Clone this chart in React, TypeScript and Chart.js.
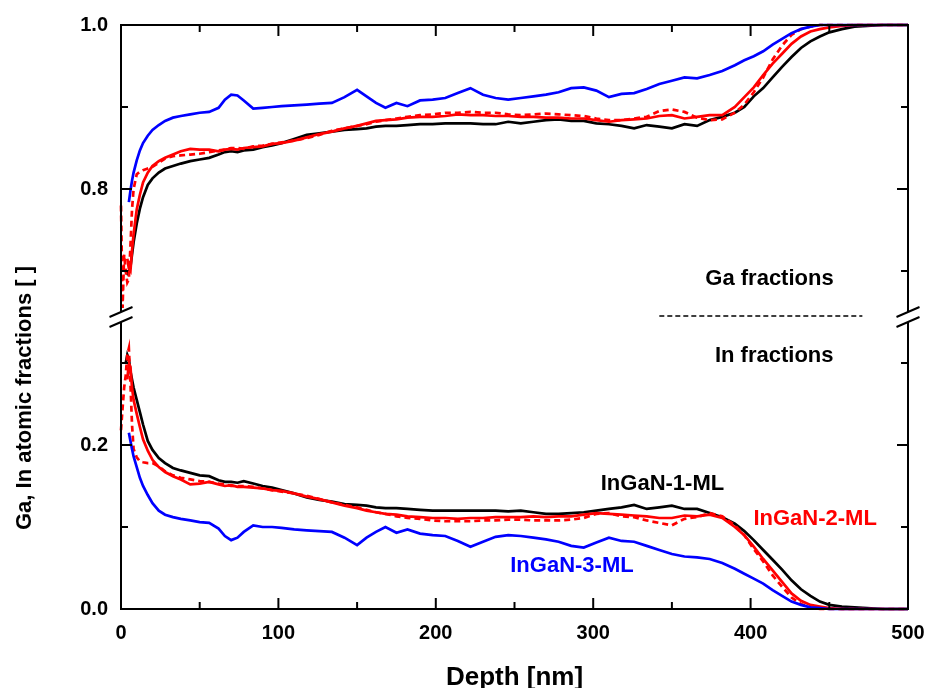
import React, { useEffect, useRef } from "react";
import { Chart, registerables } from "chart.js";

Chart.register(...registerables);

// ---------- data ----------
const depth = [0, 1, 2, 3, 4, 5, 6, 7, 8, 10, 12, 14, 17, 20, 24, 28, 33, 38, 44, 50, 56, 62, 66, 70, 74, 78, 84, 90, 96, 102, 110, 118, 126, 134, 142, 150, 156, 162, 168, 175, 182, 190, 198, 206, 214, 222, 230, 238, 246, 254, 262, 270, 278, 286, 294, 302, 310, 318, 326, 334, 342, 350, 358, 366, 374, 382, 390, 396, 402, 408, 414, 420, 426, 432, 438, 444, 450, 458, 466, 474, 484, 500];

// Ga fractions
const gaInGaN1 = [null, null, null, 0.700, 0.697, 0.700, 0.705, 0.720, 0.735, 0.758, 0.776, 0.790, 0.805, 0.813, 0.820, 0.825, 0.828, 0.831, 0.834, 0.836, 0.838, 0.842, 0.845, 0.846, 0.845, 0.847, 0.848, 0.851, 0.853, 0.856, 0.861, 0.866, 0.868, 0.870, 0.872, 0.873, 0.874, 0.876, 0.877, 0.877, 0.878, 0.879, 0.879, 0.880, 0.880, 0.880, 0.879, 0.879, 0.882, 0.880, 0.882, 0.884, 0.885, 0.883, 0.883, 0.880, 0.879, 0.877, 0.874, 0.878, 0.876, 0.874, 0.879, 0.877, 0.884, 0.888, 0.893, 0.900, 0.913, 0.923, 0.936, 0.949, 0.961, 0.972, 0.980, 0.986, 0.991, 0.995, 0.998, 0.999, 1.000, 1.000];
const gaInGaN2 = [null, null, null, null, 0.715, 0.703, 0.700, 0.725, 0.745, 0.775, 0.793, 0.808, 0.820, 0.828, 0.834, 0.838, 0.842, 0.846, 0.849, 0.848, 0.848, 0.846, 0.848, 0.849, 0.848, 0.850, 0.851, 0.852, 0.855, 0.856, 0.859, 0.863, 0.867, 0.870, 0.874, 0.877, 0.880, 0.883, 0.884, 0.885, 0.887, 0.888, 0.888, 0.889, 0.891, 0.890, 0.890, 0.889, 0.889, 0.888, 0.888, 0.887, 0.887, 0.886, 0.886, 0.884, 0.882, 0.884, 0.885, 0.886, 0.889, 0.890, 0.886, 0.888, 0.890, 0.890, 0.900, 0.912, 0.924, 0.939, 0.953, 0.965, 0.977, 0.986, 0.992, 0.995, 0.997, 0.999, 1.000, 1.000, 1.000, 1.000];
const gaInGaN2b = [0.780, 0.655, 0.720, 0.700, 0.686, 0.690, 0.730, 0.775, 0.800, 0.818, 0.821, 0.823, 0.825, 0.827, 0.832, 0.837, 0.840, 0.841, 0.842, 0.843, 0.845, 0.847, 0.848, 0.850, 0.850, 0.849, 0.852, 0.853, 0.855, 0.857, 0.859, 0.862, 0.866, 0.871, 0.874, 0.877, 0.879, 0.882, 0.884, 0.886, 0.888, 0.890, 0.891, 0.893, 0.893, 0.894, 0.893, 0.893, 0.891, 0.890, 0.891, 0.892, 0.891, 0.890, 0.889, 0.886, 0.884, 0.884, 0.886, 0.888, 0.895, 0.897, 0.894, 0.887, 0.884, 0.885, 0.893, 0.903, 0.918, 0.936, 0.958, 0.975, 0.988, 0.995, 0.998, 1.000, 1.000, 1.000, 1.000, 1.000, 1.000, 1.000];
const gaInGaN3 = [null, null, null, null, null, 0.784, 0.798, 0.810, 0.820, 0.835, 0.847, 0.856, 0.865, 0.872, 0.878, 0.883, 0.887, 0.889, 0.891, 0.893, 0.894, 0.899, 0.909, 0.915, 0.914, 0.908, 0.898, 0.899, 0.900, 0.901, 0.902, 0.903, 0.904, 0.905, 0.912, 0.921, 0.913, 0.905, 0.899, 0.905, 0.901, 0.908, 0.909, 0.911, 0.917, 0.923, 0.915, 0.911, 0.909, 0.911, 0.913, 0.915, 0.918, 0.923, 0.924, 0.920, 0.912, 0.916, 0.917, 0.922, 0.928, 0.932, 0.936, 0.935, 0.939, 0.944, 0.951, 0.957, 0.962, 0.968, 0.976, 0.983, 0.990, 0.995, 0.998, 1.000, 1.000, 1.000, 1.000, 1.000, 1.000, 1.000];

// In fractions
const inInGaN1 = [null, null, null, 0.300, 0.310, 0.305, 0.290, 0.280, 0.270, 0.255, 0.240, 0.225, 0.205, 0.194, 0.184, 0.178, 0.172, 0.169, 0.166, 0.163, 0.162, 0.157, 0.155, 0.155, 0.154, 0.156, 0.153, 0.150, 0.148, 0.145, 0.141, 0.136, 0.133, 0.131, 0.128, 0.127, 0.126, 0.124, 0.123, 0.123, 0.122, 0.121, 0.120, 0.120, 0.120, 0.120, 0.120, 0.120, 0.119, 0.120, 0.118, 0.116, 0.116, 0.117, 0.118, 0.120, 0.122, 0.124, 0.127, 0.122, 0.124, 0.126, 0.122, 0.122, 0.117, 0.112, 0.104, 0.095, 0.084, 0.072, 0.060, 0.048, 0.035, 0.024, 0.016, 0.009, 0.005, 0.003, 0.002, 0.001, 0.000, 0.000];
const inInGaN2 = [null, null, null, null, 0.280, 0.300, 0.295, 0.270, 0.255, 0.238, 0.222, 0.207, 0.193, 0.182, 0.173, 0.167, 0.162, 0.158, 0.152, 0.153, 0.155, 0.152, 0.150, 0.151, 0.149, 0.149, 0.148, 0.147, 0.145, 0.144, 0.141, 0.137, 0.134, 0.130, 0.126, 0.123, 0.120, 0.118, 0.116, 0.115, 0.113, 0.112, 0.111, 0.111, 0.110, 0.111, 0.111, 0.112, 0.112, 0.112, 0.113, 0.112, 0.113, 0.113, 0.115, 0.117, 0.116, 0.115, 0.114, 0.113, 0.111, 0.111, 0.114, 0.113, 0.115, 0.111, 0.100, 0.090, 0.076, 0.061, 0.047, 0.033, 0.019, 0.010, 0.005, 0.003, 0.001, 0.000, 0.000, 0.000, 0.000, 0.000];
const inInGaN2b = [0.218, 0.245, 0.270, 0.285, 0.310, 0.318, 0.275, 0.225, 0.195, 0.185, 0.180, 0.179, 0.178, 0.178, 0.174, 0.168, 0.163, 0.160, 0.158, 0.156, 0.155, 0.153, 0.152, 0.150, 0.150, 0.150, 0.149, 0.147, 0.145, 0.143, 0.141, 0.138, 0.134, 0.130, 0.127, 0.124, 0.121, 0.118, 0.116, 0.113, 0.111, 0.110, 0.108, 0.107, 0.107, 0.107, 0.108, 0.108, 0.109, 0.109, 0.108, 0.108, 0.108, 0.109, 0.111, 0.116, 0.117, 0.113, 0.112, 0.108, 0.105, 0.102, 0.110, 0.112, 0.117, 0.113, 0.102, 0.090, 0.073, 0.058, 0.041, 0.027, 0.014, 0.006, 0.002, 0.000, 0.000, 0.000, 0.000, 0.000, 0.000, 0.000];
const inInGaN3 = [null, null, null, null, null, 0.215, 0.205, 0.195, 0.186, 0.173, 0.160, 0.150, 0.139, 0.129, 0.120, 0.115, 0.112, 0.110, 0.108, 0.106, 0.105, 0.098, 0.089, 0.084, 0.087, 0.094, 0.102, 0.100, 0.100, 0.099, 0.097, 0.096, 0.095, 0.094, 0.087, 0.078, 0.087, 0.094, 0.100, 0.093, 0.097, 0.092, 0.090, 0.089, 0.083, 0.076, 0.082, 0.088, 0.090, 0.089, 0.087, 0.085, 0.082, 0.077, 0.075, 0.081, 0.087, 0.083, 0.082, 0.077, 0.072, 0.067, 0.064, 0.063, 0.061, 0.056, 0.049, 0.043, 0.037, 0.031, 0.023, 0.016, 0.009, 0.005, 0.002, 0.001, 0.000, 0.000, 0.000, 0.000, 0.000, 0.000];

// axes
const depthRange = [0, 500];
const gaRange = [0.65, 1.0];
const inRange = [0.0, 0.35];
const xMajorTicks = [0, 100, 200, 300, 400, 500];
const xMinorTicks = [50, 150, 250, 350, 450];
const gaMajorTicks = [0.8, 1.0];
const gaMinorTicks = [0.7, 0.9];
const inMajorTicks = [0.0, 0.2];
const inMinorTicks = [0.1, 0.3];

const xTitle = "Depth [nm]";
const yTitle = "Ga, In atomic fractions [ ]";

// annotation texts (anchored in data coordinates)
const notes = [
  { text: "Ga fractions", x: 412, y: 0.683, axis: "yGa", color: "#000000" },
  { text: "In fractions", x: 415, y: 0.301, axis: "yIn", color: "#000000" },
  { text: "InGaN-1-ML", x: 344, y: 0.145, axis: "yIn", color: "#000000" },
  { text: "InGaN-2-ML", x: 441, y: 0.102, axis: "yIn", color: "#ff0000" },
  { text: "InGaN-3-ML", x: 286.5, y: 0.045, axis: "yIn", color: "#0000ff" },
];
const separator = [342, 471];

// ---------- styling ----------
const FAMILY = '"Liberation Sans", Arial, Helvetica, sans-serif';
const BLACK = "#000000";
const RED = "#ff0000";
const BLUE = "#0000ff";

function pts(vals: (number | null)[]) {
  const out: { x: number; y: number }[] = [];
  vals.forEach((v, i) => {
    if (v !== null && v !== undefined) out.push({ x: depth[i], y: v });
  });
  return out;
}

function series(vals: (number | null)[], color: string, axis: string, dashed: boolean) {
  return {
    data: pts(vals),
    borderColor: color,
    backgroundColor: color,
    borderWidth: 2.7,
    borderDash: dashed ? [6, 4] : [],
    pointRadius: 0,
    tension: 0,
    fill: false,
    clip: false as any,
    yAxisID: axis,
  };
}

const decor = {
  id: "decor",
  afterDatasetsDraw(chart: any) {
    const { ctx, chartArea, scales } = chart;
    const { left, right, top, bottom } = chartArea;
    const x = scales.x, yGa = scales.yGa, yIn = scales.yIn;
    const gapTop = yGa.bottom;
    const gapBot = yIn.top;
    const line = (x1: number, y1: number, x2: number, y2: number) => {
      ctx.beginPath();
      ctx.moveTo(x1, y1);
      ctx.lineTo(x2, y2);
      ctx.stroke();
    };
    ctx.save();
    ctx.strokeStyle = BLACK;
    ctx.lineWidth = 2;
    ctx.setLineDash([]);
    // frame
    line(left - 1, top, right + 1, top);
    line(left - 1, bottom, right + 1, bottom);
    line(left, top, left, gapTop);
    line(left, gapBot, left, bottom);
    line(right, top, right, gapTop);
    line(right, gapBot, right, bottom);
    // x ticks
    const MAJ = 11, MIN = 7;
    xMajorTicks.forEach((v) => {
      const p = x.getPixelForValue(v);
      line(p, bottom, p, bottom - MAJ);
      line(p, top, p, top + MAJ);
    });
    xMinorTicks.forEach((v) => {
      const p = x.getPixelForValue(v);
      line(p, bottom, p, bottom - MIN);
      line(p, top, p, top + MIN);
    });
    const yt = (scale: any, vals: number[], len: number) =>
      vals.forEach((v) => {
        const p = scale.getPixelForValue(v);
        line(left, p, left + len, p);
        line(right, p, right - len, p);
      });
    yt(yGa, gaMajorTicks, MAJ);
    yt(yGa, gaMinorTicks, MIN);
    yt(yIn, inMajorTicks, MAJ);
    yt(yIn, inMinorTicks, MIN);
    // axis break marks
    [left, right].forEach((ax) => {
      [gapTop, gapBot].forEach((cy) => {
        line(ax - 11.5, cy + 5, ax + 11.5, cy - 5);
      });
    });
    // separator
    ctx.lineWidth = 1.5;
    ctx.setLineDash([5, 3]);
    const sy = (gapTop + gapBot) / 2 - 1;
    line(x.getPixelForValue(separator[0]), sy, x.getPixelForValue(separator[1]), sy);
    ctx.setLineDash([]);
    // notes
    ctx.font = `bold 22px ${FAMILY}`;
    ctx.textAlign = "center";
    ctx.textBaseline = "alphabetic";
    notes.forEach((n) => {
      ctx.fillStyle = n.color;
      const sc = scales[n.axis];
      ctx.fillText(n.text, x.getPixelForValue(n.x), sc.getPixelForValue(n.y));
    });
    // axis titles
    ctx.fillStyle = BLACK;
    ctx.font = `bold 26px ${FAMILY}`;
    ctx.fillText(xTitle, (left + right) / 2, 685);
    ctx.save();
    ctx.translate(31, 398);
    ctx.rotate(-Math.PI / 2);
    ctx.font = `bold 22px ${FAMILY}`;
    ctx.fillText(yTitle, 0, 0);
    ctx.restore();
    ctx.restore();
  },
};

const tickFont = { family: FAMILY, size: 20, weight: "bold" as const };

export default function App() {
  const ref = useRef<HTMLCanvasElement>(null);
  useEffect(() => {
    if (!ref.current) return;
    const chart = new Chart(ref.current, {
      type: "line",
      data: {
        datasets: [
          series(gaInGaN3, BLUE, "yGa", false),
          series(inInGaN3, BLUE, "yIn", false),
          series(gaInGaN2b, RED, "yGa", true),
          series(inInGaN2b, RED, "yIn", true),
          series(gaInGaN2, RED, "yGa", false),
          series(inInGaN2, RED, "yIn", false),
          series(gaInGaN1, BLACK, "yGa", false),
          series(inInGaN1, BLACK, "yIn", false),
        ] as any,
      },
      options: {
        animation: false,
        responsive: true,
        maintainAspectRatio: false,
        layout: { autoPadding: false, padding: { top: 25, right: 18, left: 0, bottom: 0 } },
        plugins: { legend: { display: false }, tooltip: { enabled: false } },
        scales: {
          x: {
            type: "linear",
            position: "bottom",
            min: depthRange[0],
            max: depthRange[1],
            grid: { display: false, drawTicks: false },
            border: { display: false },
            afterBuildTicks: (s: any) => {
              s.ticks = xMajorTicks.map((v) => ({ value: v }));
            },
            ticks: { font: tickFont, color: BLACK, padding: 12, maxRotation: 0 },
            afterFit: (s: any) => {
              s.height = 79;
              s.paddingLeft = 0;
              s.paddingRight = 0;
            },
          },
          yIn: {
            type: "linear",
            position: "left",
            stack: "frac",
            stackWeight: inRange[1] - inRange[0],
            min: inRange[0],
            max: inRange[1],
            grid: { display: false, drawTicks: false },
            border: { display: false },
            afterBuildTicks: (s: any) => {
              s.ticks = inMajorTicks.map((v) => ({ value: v }));
            },
            ticks: { font: tickFont, color: BLACK, padding: 13, callback: (v: any) => Number(v).toFixed(1) },
            afterFit: (s: any) => {
              s.width = 121;
            },
          },
          yGap: {
            type: "linear",
            position: "left",
            stack: "frac",
            stackWeight: 0.0122,
            min: 0,
            max: 1,
            display: false,
          },
          yGa: {
            type: "linear",
            position: "left",
            stack: "frac",
            stackWeight: gaRange[1] - gaRange[0],
            min: gaRange[0],
            max: gaRange[1],
            grid: { display: false, drawTicks: false },
            border: { display: false },
            afterBuildTicks: (s: any) => {
              s.ticks = gaMajorTicks.map((v) => ({ value: v }));
            },
            ticks: { font: tickFont, color: BLACK, padding: 13, callback: (v: any) => Number(v).toFixed(1) },
            afterFit: (s: any) => {
              s.width = 121;
            },
          },
        } as any,
      },
      plugins: [decor],
    });
    return () => chart.destroy();
  }, []);
  return (
    <div style={{ position: "absolute", left: 0, top: 0, width: 926, height: 688 }}>
      <canvas ref={ref} />
    </div>
  );
}
